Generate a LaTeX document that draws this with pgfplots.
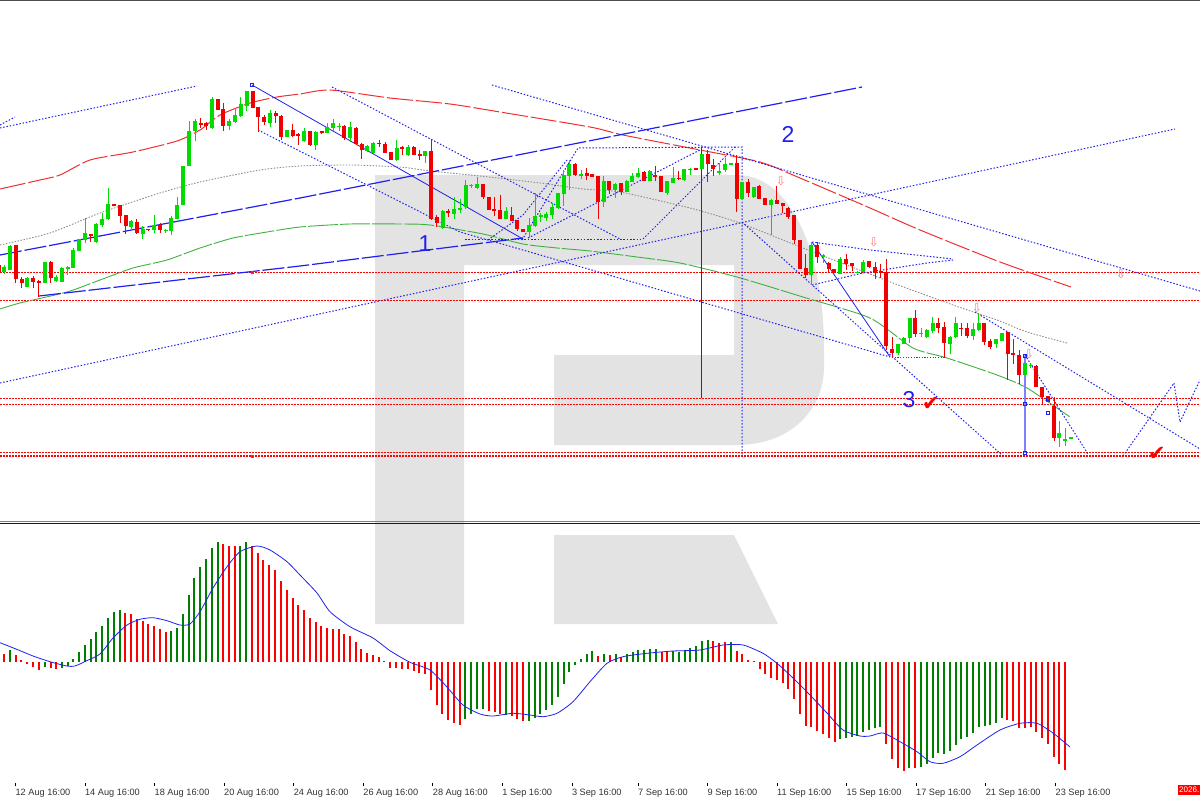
\documentclass[border=0pt]{standalone}
\usepackage{pgfplots}
\usepackage{pgfplotstable}
\usepackage{fontspec}
\pgfplotsset{compat=1.18}
\setmainfont{Liberation Sans}
\newfontfamily\sym{DejaVu Sans}
\definecolor{cg}{HTML}{00DC00}
\definecolor{cr}{HTML}{F00000}
\definecolor{hg}{HTML}{008000}
\definecolor{hr}{HTML}{FF0000}
\definecolor{logo}{HTML}{E3E3E3}
\definecolor{bl}{HTML}{2020F0}
\definecolor{ma}{HTML}{F03030}
\definecolor{mg}{HTML}{40B040}
\pgfplotstableread{
x hi lo top bot
4.3 265 274 267 272
10 245 270 246 270
27.3 277 287 278 287
44.7 262 283 262 283
56 275 282 277 281
61.7 267 282 268 282
67.7 266 275 267 269
73.3 248 268 250 268
79.3 239 251 239 251
85 218 243 233 240
96.3 223 243 224 242
102.3 213 227 219 225
108 188 220 204 219
131.3 220 229 221 227
142.7 226 239 229 234
154 215 233 225 230
165.7 229 233 230 231
171.3 216 235 218 231
177.3 197 219 205 219
183 166 205 166 205
189 121 166 131 166
195 119 141 121 131
212 97 129 99 128
229.3 119 130 121 126
235.3 108 123 115 122
240.7 97 117 104 116
246.7 91 111 91 106
270 110 127 113 123
287 130 137 130 137
304 128 142 131 141
315.7 131 150 132 145
327.3 123 133 127 133
333 119 131 123 128
339 123 131 126 127
350 122 142 127 138
367.3 145 152 146 151
373.3 142 155 143 153
396.7 140 161 148 160
408 145 156 147 155
425.3 151 163 151 156
442.7 210 229 211 228
454 197 219 209 214
460 199 213 208 210
465.7 180 209 185 207
471.3 184 188 185 186
477.3 177 189 184 188
506 207 219 211 219
529 218 238 225 232
535 193 227 216 226
540.7 213 222 215 217
546.3 212 221 214 218
552 203 219 207 215
558 193 209 193 208
563.7 170 206 175 194
569.3 160 190 164 176
581 170 179 174 176
603.7 176 207 181 202
615.3 183 198 184 190
626.7 180 192 181 192
632.3 173 182 176 182
638.3 168 178 173 177
649.7 170 181 171 181
667 181 195 181 193
673 167 183 178 183
684.3 169 181 169 180
690.3 168 175 169 170
702 154 169 154 169
719 163 175 171 173
725 158 172 164 170
730.7 163 165 163 165
742.3 182 200 182 199
753.7 187 198 187 197
771 199 235 200 205
811.3 242 285 245 275
823 254 263 255 257
840.3 257 274 259 274
857.3 271 273 271.5 273
863.3 260 273 262 272
898 344 355 344 353
903.7 337 344 338 344
909.7 318 343 318 338
921 328 337 333 334
926.7 329 338 330 337
932.7 317 333 323 331
950 336 354 337 344
955.7 317 338 323 337
973 323 340 329 336
978.7 313 331 323 330
996 339 348 339 344
1001.7 333 341 333 341
1025 363 375 363 375
1030.7 363 368 365 366
1059.3 421 447 433 438
1065.3 428 446 439 441
1071 437 439 437 439
}\candG
\pgfplotstableread{
x hi lo top bot
-1.5 264 273 265 272
15.7 245 283 245 279
21.7 277 288 279 283
33.3 276 288 278 282
38.7 280 297 281 283
50.7 261 283 262 278
90.7 234 242 234 236
114 204 206 204 206
120 205 223 205 216
125.7 215 234 215 226
136.7 219 234 222 233
148.3 229 231 229 230
160 223 233 225 230
200.7 118 128 123 125
206.3 122 130 123 126
217.7 99 110 99 110
223.3 103 131 109 126
252.7 91 108 91 108
258.3 107 132 107 117
264 115 125 117 122
275.7 111 123 113 116
281.3 115 140 116 137
292.7 124 137 130 136
298.3 133 145 134 136
310 131 146 131 145
321.7 131 134 131 133
344.3 125 140 126 138
356 127 145 128 144
361.7 143 159 144 150
379 140 147 143 144
385 142 153 144 153
390.7 152 160 152 160
402.3 146 155 147 149
413.7 146 155 147 155
419.7 150 160 154 156
431.3 140 220 151 219
436.7 215 227 217 223
448.3 209 217 211 213
483 184 199 184 197
488.7 197 210 197 210
494.3 197 216 209 211
500.3 195 219 210 219
511.7 207 221 215 221
517.3 220 231 220 229
523 229 232 229 232
575 163 176 164 175
586.7 168 180 173 176
592.3 174 177 174 177
598 176 219 176 202
609.3 181 194 181 190
621 183 195 183 192
644 171 181 172 181
655.3 166 181 175 177
661.3 176 192 176 192
678.7 171 180 178 179
696 168 170 168 170
707.7 150 182 154 164
713.3 159 176 165 169
736.7 155 212 163 199
748 179 197 182 193
759.3 185 199 186 199
765 198 205 198 205
776.7 186 204 200 204
782.7 203 213 203 206
788.3 207 219 208 217
794 215 244 215 240
800 240 269 240 269
805.7 254 278 268 275
817.3 242 263 245 257
828.7 262 273 263 269
834.3 269 273 269 273
846 254 270 259 264
852 263 271 263 266
869 261 268 261 267
875 262 279 267 272
880.7 264 278 271 273
886.3 259 350 272 346
892 337 357 349 353
915.3 310 337 318 334
938.3 318 333 323 328
944 322 357 327 343
961.3 323 336 328 329
967.3 323 338 328 336
984.3 323 345 323 342
990 339 349 341 347
1007.7 332 380 332 354
1013.3 339 364 353 355
1019 350 384 355 375
1036.3 365 387 366 387
1042 387 405 387 397
1048 396 402 396 402
1054 397 441 406 438
}\candR
\pgfplotstableread{
x y
10 650
45 666.7
62 667.7
67.7 665.7
73.3 659
79 651.7
85 645
90.7 639.3
96.3 632
102.3 626
108 617.7
114 612
120 610
171.3 631
177 627.7
183 614.3
188.7 595
194.3 578
200.3 567
206.3 559.3
212 547.7
217.7 542.3
240.3 546
246.3 542.3
465.3 719
471.3 713.7
477.3 709.3
483 708.7
506 714.7
529 721.3
534.7 717.7
540.3 714
546 709.7
552 704.7
557.7 697
563.7 684.3
569.3 672.3
575 665
581 659
586.7 654
592.3 651.3
603.7 654
615.7 654
627 654
633 652
638.3 649.7
644 649.7
650 649
655.7 649
673 651.3
678.7 651.7
684.7 649.7
690 648
696 646
702 641.3
707.7 640.3
731 642
840 739
845.7 738
851.7 736.7
857.3 736.3
863.3 732.3
869 730
874.7 728
880.3 727.3
909.3 768
921 766.7
926.7 763.7
932.7 758
938.3 753.3
944 753.7
949.7 751
955.7 745
961.3 739
967.3 736.7
973.3 732.7
978.7 726.7
984.7 726
990.3 725.3
996 723
1001.7 718
}\histG
\pgfplotstableread{
x y
4.3 654
15.7 655
21.3 660
27.3 664
33.3 667
39 670
50.7 668.3
56 669
125.3 612.7
131 614.3
137 619.3
142.7 621
148.3 624.3
154 626
159.7 629.3
165.7 632
223.3 544
229 546
234.7 546
252.3 546
257.7 552.7
263.3 560.3
269.3 565.3
275.3 570.3
281 581.3
286.7 590
292.7 598.3
298.3 605
304 610
310 618.3
315.7 622
321.3 626
327 628
332.7 628.7
338.7 629.3
344.3 634.3
350 636
355.7 642
361.3 649
367.3 653
373 655
379 657.3
384.3 661
390.3 667.7
396 668.3
402 669
407.7 669
413.7 671
419.3 673.3
425 673.7
430.7 690
436.7 705.3
442.3 713.7
448.3 719.7
454 723
460 725
488.7 711
494.7 712.3
500.3 714
511.7 716.3
517.3 719
523 721.3
598.3 656.3
609.7 654.7
621.3 657.3
661.7 652.3
667.3 652.3
713.3 641
719 643
725 642.3
736.7 651.3
742.3 653.7
748.3 660
754 661
760 669
765 674
770.7 677.7
776.7 679.7
782.7 683.3
788.3 688.7
794 698.7
800 713.7
806 725.7
811.3 727.3
817.3 730.7
823.3 734
829 738.3
834.7 741.7
886.3 744.3
892 759.3
898 767.7
904 771
915 768
1007.3 720
1013 721.3
1019 727.5
1024.7 727.7
1030.7 727.3
1036 732.3
1042 737.7
1048 743.7
1053.7 756.7
1059.3 763.7
1065 770.3
}\histR
\pgfplotsset{
  dotb/.style={color=bl, line width=1pt, dash pattern=on 1.5pt off 1.8pt, forget plot},
  dashb/.style={color=bl, line width=1.2pt, dash pattern=on 22pt off 3pt, forget plot},
  hl/.style={color=hr, line width=1.1pt, dash pattern=on 2pt off 1pt, forget plot},
}
\newcommand{\Wick}[2]{\addplot[draw=none, no markers, forget plot, error bars/.cd, y dir=plus, y explicit, error mark=none, error bar style={color=#2, line width=1pt}] table[x=x, y=hi, y error expr=\thisrow{lo}-\thisrow{hi}] {#1};}
\newcommand{\Body}[2]{\addplot[draw=none, no markers, forget plot, error bars/.cd, y dir=plus, y explicit, error mark=none, error bar style={color=#2, line width=4pt}] table[x=x, y=top, y error expr=\thisrow{bot}-\thisrow{top}] {#1};}
\newcommand{\Hist}[2]{\addplot[draw=none, no markers, forget plot, error bars/.cd, y dir=plus, y explicit, error mark=none, error bar style={color=#2, line width=2.2pt}] table[x=x, y=y, y error expr=662-\thisrow{y}] {#1};}
\begin{document}
\begin{tikzpicture}
\useasboundingbox (0,-17pt) rectangle (1200pt,783pt);
\begin{axis}[
  at={(0,0)}, anchor=south west,
  width=1200pt, height=783pt, scale only axis,
  xmin=0, xmax=1200, ymin=0, ymax=783, y dir=reverse,
  clip=false, axis line style={draw=none},
  ytick=\empty,
  xtick={15.4,84.9,154.5,224,293.6,363.2,432.7,502.2,571.8,638,707.5,777,846.5,916,985.6,1055.5},
  xticklabels={12 Aug 16:00,14 Aug 16:00,18 Aug 16:00,20 Aug 16:00,24 Aug 16:00,26 Aug 16:00,28 Aug 16:00,1 Sep 16:00,3 Sep 16:00,7 Sep 16:00,9 Sep 16:00,11 Sep 16:00,15 Sep 16:00,17 Sep 16:00,21 Sep 16:00,23 Sep 16:00},
  x tick label style={anchor=north west, inner xsep=0pt, inner ysep=2.5pt, font=\fontsize{9.2}{10}\selectfont, text=black!80},
  tick style={black, line width=0.6pt}, major tick length=3pt,
  xtick pos=lower, xticklabel pos=lower, tick align=outside,
]
% watermark
\fill[logo] (375,175) -- (737,175) .. controls (790,175) and (824,250) .. (824,350) -- (824,367) .. controls (824,410) and (790,445) .. (737,445) -- (554,445) -- (554,355) -- (734,355) -- (734,265) -- (464,265) -- (464,624) -- (375,624) -- cycle;
\fill[logo] (554,535) -- (734,535) -- (778,624) -- (554,624) -- cycle;
% frame
\addplot[forget plot, color=black!70, line width=1pt] coordinates {(0,1)(1200,1)};
\addplot[forget plot, color=black!50, line width=1pt] coordinates {(0,521.5)(1200,521.5)};
\addplot[forget plot, color=black!90, line width=1pt] coordinates {(0,523)(1200,523)};
% horizontal levels
\addplot[hl] coordinates {(0,272.7)(1200,272.7)};
\addplot[hl] coordinates {(0,300.7)(1200,300.7)};
\addplot[hl] coordinates {(0,398.7)(1200,398.7)};
\addplot[hl] coordinates {(0,404.4)(1200,404.4)};
\addplot[hl] coordinates {(0,452.7)(1200,452.7)};
\addplot[hl] coordinates {(0,456)(1200,456)};
% moving averages
\addplot[forget plot, smooth, tension=0.4, color=ma, line width=1pt, dash pattern=on 26pt off 3pt] coordinates {(0,189)(40,180)(60,175)(90,160)(133,152)(177,141)(200,130)(220,115)(250,103)(277,97)(300,94)(330,90)(390,98)(450,104)(500,112)(590,127)(623,135)(700,150)(760,162)(800,178)(870,208)(920,230)(1000,262)(1071,287)};
\addplot[forget plot, smooth, tension=0.4, color=black!45, line width=0.9pt, dash pattern=on 1.5pt off 1.5pt] coordinates {(0,245)(50,233)(100,213)(160,193)(200,182)(260,170)(300,166)(350,165)(400,167)(430,171)(480,176)(540,183)(583,189)(620,192)(690,208)(740,223)(803,248)(893,283)(953,305)(997,320)(1027,332)(1067,343)};
\addplot[forget plot, smooth, tension=0.4, color=mg, line width=0.9pt, dash pattern=on 30pt off 2pt] coordinates {(0,309)(20,303)(67,292)(100,280)(133,268)(167,260)(200,248)(233,238)(267,232)(300,227)(350,224)(400,224)(430,225)(483,234)(523,244)(557,248)(590,251)(637,257)(680,263)(737,277)(803,297)(870,318)(913,348)(947,358)(997,375)(1027,388)(1070,417)};
% trend lines
\addplot[dashb] coordinates {(0,255)(300,198)(862,87)};
\addplot[dashb] coordinates {(39,296)(300,266)(523,238)};
\addplot[dotb] coordinates {(0,128)(197,86)};
\addplot[dotb] coordinates {(0,125)(15,117)};
\addplot[dotb] coordinates {(0,383)(1175,129)};
\addplot[forget plot, color=bl, line width=0.8pt] coordinates {(252,85)(523,239)};
\addplot[dotb] coordinates {(258,130)(460,232)(523,250)(890,357)};
\addplot[dotb] coordinates {(332,87)(620,239)};
\addplot[dotb] coordinates {(465,239)(643,239)};
\addplot[dotb] coordinates {(643,239)(735,147)};
\addplot[dotb] coordinates {(522,240)(578,148)(742,147)(742,456)};
\addplot[dotb] coordinates {(488,240)(523,215)(567,160)};
\addplot[dotb] coordinates {(528,238)(700,150)};
\addplot[dotb] coordinates {(492,85)(1200,291)};
\addplot[dotb] coordinates {(742,222)(1003,456)};
\addplot[forget plot, color=bl, line width=0.8pt] coordinates {(701,147)(701,398)};
\addplot[forget plot, color=bl, line width=0.8pt] coordinates {(812,242)(890,357)};
\addplot[dotb] coordinates {(812,242)(870,250)(953,259)};
\addplot[dotb] coordinates {(812,285)(863,273)(927,263)(953,260)};
\addplot[forget plot, color=black!70, line width=0.9pt, dash pattern=on 1.2pt off 1.5pt] coordinates {(892,357)(945,357)};
\addplot[dotb] coordinates {(975,312)(1200,449)};
\addplot[dotb] coordinates {(1025,355)(1088,454)};
\addplot[dotb] coordinates {(1123,456)(1174,383)(1180,422)(1200,380)};
\addplot[forget plot, color=blue!50, line width=1.4pt] coordinates {(1025,356)(1025,453)};
\addplot[forget plot, only marks, mark=square, mark size=1.5pt, color=bl, mark options={line width=0.6pt}] coordinates {(1025,356)(1025,404)(1025,453)(252,85)(1048,399)(1048,413)};
\addplot[forget plot, only marks, mark=square, mark size=1pt, color=black!60, mark options={line width=0.5pt}] coordinates {(252,272)(252,456)};
% candles
\Wick{\candG}{cg}
\Wick{\candR}{cr}
\Body{\candG}{cg}
\Body{\candR}{cr}
% histogram
\Hist{\histG}{hg}
\Hist{\histR}{hr}
% signal line
\addplot[forget plot, smooth, tension=0.4, color=bl, line width=0.8pt] coordinates {(0,642.7)(16.7,649.3)(33,656)(50,661.7)(66.7,666)(75,666)(86.7,660.7)(100,654)(113,638)(127,625)(140,619.3)(153,617.7)(167,620.7)(180,625)(190,624)(200,611.7)(213,588)(227,566.7)(240,551.7)(257,546)(270,550)(287,561.7)(300,575)(317,593)(330,611.7)(350,626.7)(373,638)(390,650.7)(410,662.3)(430,670)(446.7,686.7)(463,705)(480,714)(493,716)(513,713.3)(530,715)(543,716.7)(557,713.3)(573,701.7)(590,681.7)(607,663.3)(623,656.7)(647,653.3)(673,651)(700,650)(723,645)(743,645)(763,653.3)(777,663.3)(793,678)(810,695)(827,713)(843,730)(860,736)(870,736)(883,733)(900,741.7)(917,751.7)(930,761.7)(943,763.3)(960,756.7)(977,745)(1000,730)(1020,723.3)(1037,723.3)(1053,733)(1070,747)};
% texts
\node[text=bl, font=\fontsize{23}{24}\selectfont] at (425,244) {1};
\node[text=bl, font=\fontsize{23}{24}\selectfont] at (788,134) {2};
\node[text=bl, font=\fontsize{23}{24}\selectfont] at (909,400) {3};
\foreach \px/\py in {781/181,874/242,977/308,1029/354,1121/274}
  {\edef\tmp{\noexpand\node[text=red!55, font=\noexpand\sym\noexpand\fontsize{12}{13}\noexpand\selectfont, inner sep=0pt] at (\px,\py) {⇩};}\tmp}
\node[text=hr, font=\sym\fontsize{21}{22}\selectfont, inner sep=0pt] at (931,404) {✔};
\node[text=hr, font=\sym\fontsize{21}{22}\selectfont, inner sep=0pt] at (1157,454) {✔};
\fill[hr] (1178,785) rectangle (1200,795);
\node[anchor=west, text=white, inner sep=0pt, font=\fontsize{8}{9}\selectfont] at (1179,790) {2026.};
\end{axis}
\end{tikzpicture}
\end{document}
